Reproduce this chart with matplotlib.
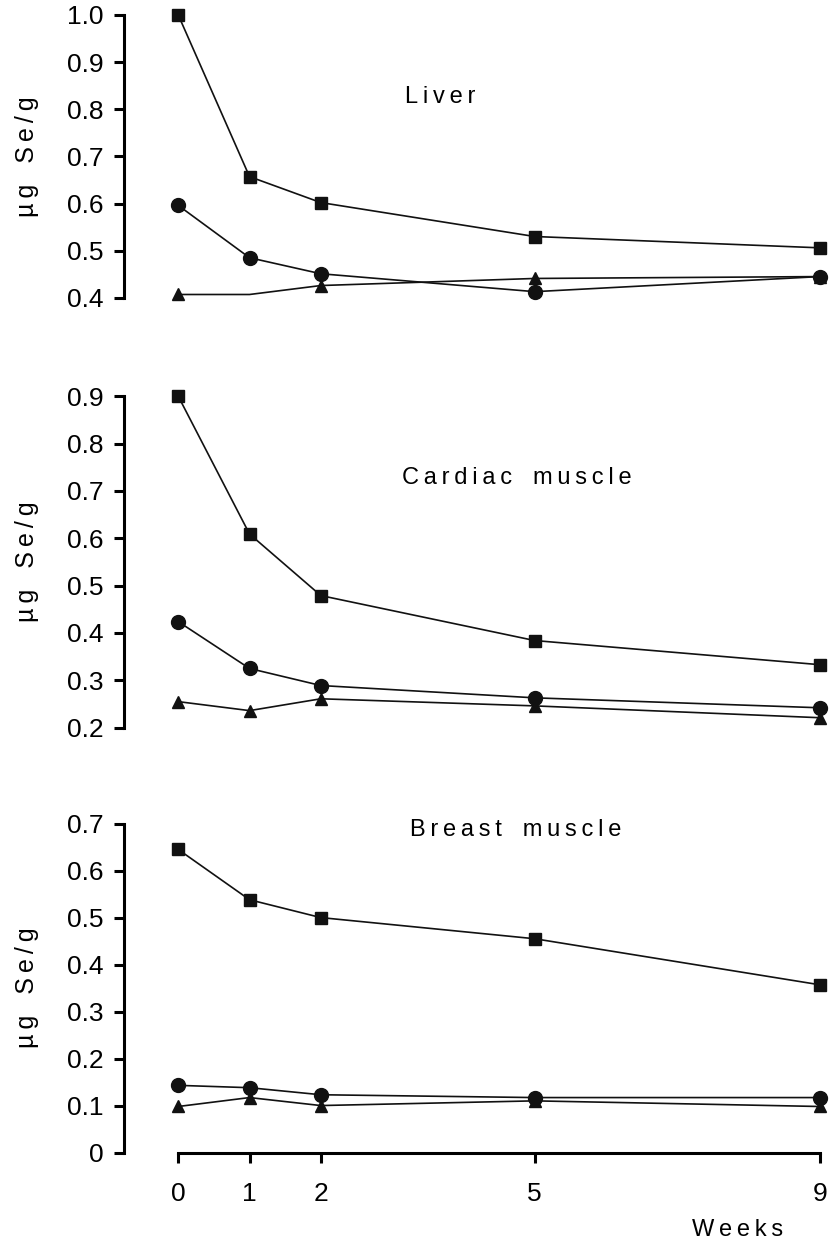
import numpy as np
import matplotlib
matplotlib.use("Agg")
import matplotlib.pyplot as plt
from matplotlib import font_manager

weeks = [0, 1, 2, 5, 9]
week_labels = ["0", "1", "2", "5", "9"]

# valeurs (ug Se/g)
liver_sq = [1.0, 0.657, 0.602, 0.530, 0.506]
liver_ci = [0.596, 0.485, 0.451, 0.413, 0.445]
liver_tr = [0.407, 0.407, 0.426, 0.441, 0.445]

cardiac_sq = [0.900, 0.609, 0.479, 0.384, 0.333]
cardiac_ci = [0.424, 0.325, 0.289, 0.263, 0.242]
cardiac_tr = [0.255, 0.236, 0.261, 0.246, 0.221]

breast_sq = [0.645, 0.538, 0.500, 0.455, 0.357]
breast_ci = [0.143, 0.138, 0.123, 0.117, 0.117]
breast_tr = [0.098, 0.117, 0.100, 0.110, 0.098]

dispo = {f.name for f in font_manager.fontManager.ttflist}
fam = [f for f in ['Liberation Sans Narrow', 'Liberation Sans', 'DejaVu Sans'] if f in dispo]
plt.rcParams['font.family'] = fam

def spaced(s):
    # lettres espacees comme dans l'original
    mots = s.split(" ")
    return "\u2009\u2009\u2009 ".join("\u2009".join(m) for m in mots)

panels = [
    ("Liver", liver_sq, liver_ci, liver_tr, (0.4, 1.0), np.arange(0.4, 1.01, 0.1),
     [0.149, 0.761, 0.846, 0.227], (3.67, 0.826)),
    ("Cardiac muscle", cardiac_sq, cardiac_ci, cardiac_tr, (0.2, 0.9), np.arange(0.2, 0.91, 0.1),
     [0.149, 0.416, 0.846, 0.266], (4.75, 0.727)),
    ("Breast muscle", breast_sq, breast_ci, breast_tr, (0.0, 0.7), np.arange(0.0, 0.71, 0.1),
     [0.149, 0.075, 0.846, 0.264], (4.73, 0.687)),
]

fig = plt.figure(figsize=(8.34, 12.46), dpi=100)

for i, (titre, sq, ci, tr, ylim, yt, rect, tpos) in enumerate(panels):
    ax = fig.add_axes(rect)
    ax.set_xlim(-0.757, 9.14)
    ax.set_ylim(*ylim)
    # triangle du foie a 1 semaine : pas de marqueur visible
    mk_tr = [0, 2, 3, 4] if i == 0 else None
    ax.plot(weeks, sq, color='#111111', lw=1.2, marker='s', ms=9, clip_on=False)
    ax.plot(weeks, ci, color='#111111', lw=1.2, marker='o', ms=10, clip_on=False)
    ax.plot(weeks, tr, color='#111111', lw=1.2, marker='^', ms=9, clip_on=False, markevery=mk_tr)
    for s in ['top', 'right']:
        ax.spines[s].set_visible(False)
    ax.spines['left'].set_linewidth(2.2)
    ax.set_yticks(yt)
    labs = ["0" if abs(v) < 1e-9 else "%.1f" % v for v in yt]
    ax.set_yticklabels(labs, fontsize=19)
    ax.tick_params(axis='y', direction='out', length=7, width=2.2, pad=8)
    ax.set_ylabel("\u2009".join("µg") + "   " + "\u2009".join("Se/g"), fontsize=18, labelpad=20)
    ax.text(tpos[0], tpos[1], spaced(titre), fontsize=17, ha='center', va='center')
    if i < 2:
        ax.spines['bottom'].set_visible(False)
        ax.set_xticks([])
    else:
        ax.spines['bottom'].set_bounds(0, 9)
        ax.spines['bottom'].set_linewidth(2.2)
        ax.set_xticks(weeks)
        ax.set_xticklabels(week_labels, fontsize=19)
        ax.tick_params(axis='x', direction='out', length=7, width=2.2, pad=14)
        ax.text(7.85, -0.165, spaced("Weeks"), fontsize=17, ha='center', va='center')

fig.savefig("out.png", dpi=100)
